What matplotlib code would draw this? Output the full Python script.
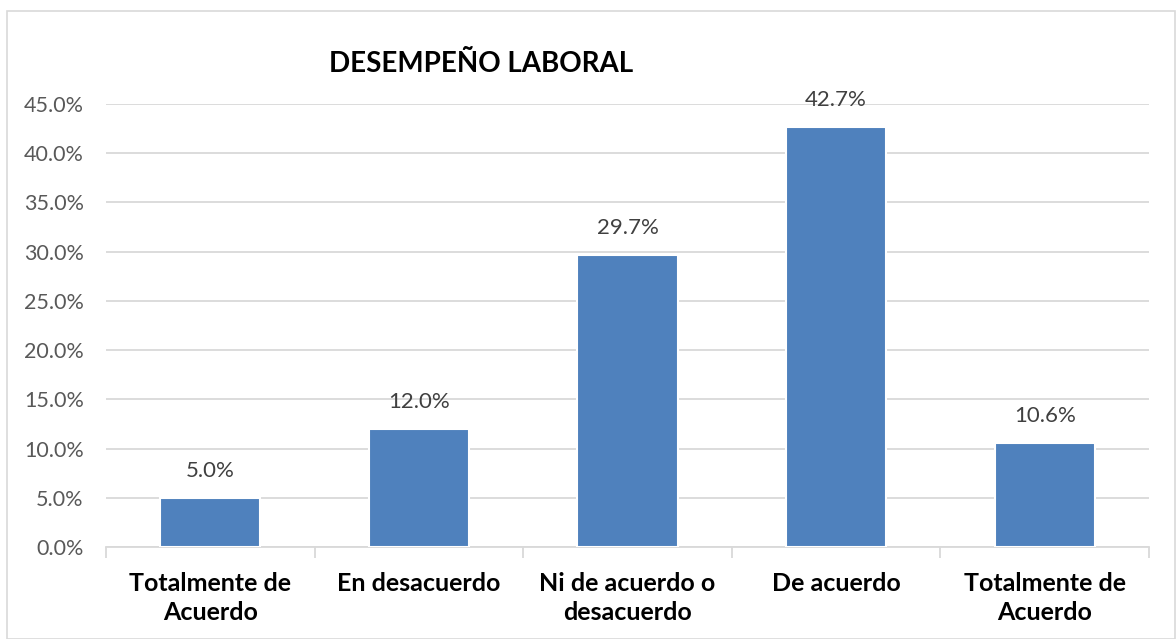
import matplotlib.pyplot as plt
from matplotlib.patches import Rectangle

categorias = ["Totalmente de\nAcuerdo", "En desacuerdo", "Ni de acuerdo o\ndesacuerdo",
              "De acuerdo", "Totalmente de\nAcuerdo"]
porcentajes = [5.0, 12.0, 29.7, 42.7, 10.6]
ticks_y = [0, 5, 10, 15, 20, 25, 30, 35, 40, 45]

plt.rcParams['font.family'] = ['Lato', 'DejaVu Sans']

fig = plt.figure(figsize=(11.76, 6.39), dpi=100)
fig.patches.append(Rectangle((7 / 1176, 0), 1 - 8 / 1176, 1 - 11 / 639, transform=fig.transFigure,
                             fill=False, edgecolor="#d9d9d9", linewidth=1.2))
ax = fig.add_axes([106 / 1176, 92 / 639, 1043 / 1176, 443 / 639])

x = range(len(categorias))
barras = ax.bar(x, porcentajes, width=0.48, color="#4f81bd", edgecolor="white", linewidth=1.5, zorder=3)
for xi, v in zip(x, porcentajes):
    ax.text(xi, v + 2.75, f"{v:.1f}%", ha="center", va="center", fontsize=16, color="#404040")

ax.set_xlim(-0.5, len(categorias) - 0.5)
ax.set_ylim(0, 45)
ax.set_yticks(ticks_y)
ax.set_yticklabels([f"{t:.1f}%" for t in ticks_y], fontsize=15.5, color="#595959")
ax.yaxis.grid(True, color="#d9d9d9", linewidth=1.3, zorder=0)
ax.tick_params(axis="y", length=0, pad=16)
ax.set_xticks([i - 0.5 for i in range(len(categorias) + 1)], minor=False)
ax.set_xticklabels([""] * (len(categorias) + 1))
ax.tick_params(axis="x", length=8, color="#d9d9d9", width=1.3)
for xi, c in zip(x, categorias):
    ax.text(xi, -2.5, c, ha="center", va="top", fontsize=18, fontweight="bold", color="black",
            linespacing=1.35)
for s in ["top", "right", "left"]:
    ax.spines[s].set_visible(False)
ax.spines["bottom"].set_color("#d9d9d9")
ax.spines["bottom"].set_linewidth(1.3)

fig.text(481 / 1176, 1 - 64 / 639, "DESEMPEÑO LABORAL", ha="center", va="center",
         fontsize=20, fontweight="bold", color="black")

fig.savefig("out.png", dpi=100)
